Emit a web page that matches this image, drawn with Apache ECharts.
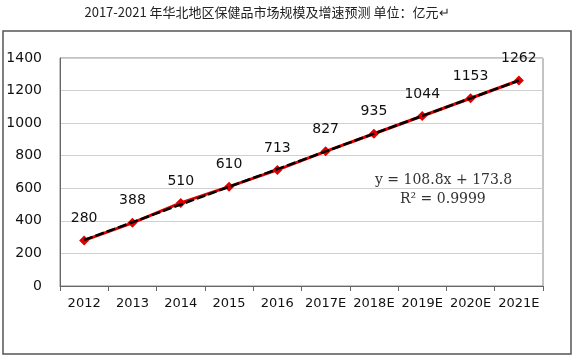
<!DOCTYPE html>
<html><head><meta charset="utf-8">
<script src="https://cdn.jsdelivr.net/npm/echarts@6/dist/echarts.min.js"></script>
<style>html,body{margin:0;padding:0;background:#fff}#c{width:576px;height:357px}</style>
</head><body><div id="c"></div>
<script>
var categories = ['2012','2013','2014','2015','2016','2017E','2018E','2019E','2020E','2021E'];
var marketSize = [280, 388, 510, 610, 713, 827, 935, 1044, 1153, 1262];
var trendLine = [282.6, 391.4, 500.2, 609.0, 717.8, 826.6, 935.4, 1044.2, 1153.0, 1261.8];
var yTicks = [0, 200, 400, 600, 800, 1000, 1200, 1400];
var titleText = '2017-2021 年华北地区保健品市场规模及增速预测 单位：亿元↵';
var eqText = 'y = 108.8x + 173.8';
var r2Text = 'R² = 0.9999';

var chart = echarts.init(document.getElementById('c'), null, {renderer:'canvas'});
var font = '"DejaVu Sans", Verdana, sans-serif';
chart.setOption({
  animation: false,
  title: {
    text: titleText, left: 262, top: 1, textAlign: 'center',
    textStyle: {fontFamily: '"Noto Sans CJK SC", sans-serif', fontSize: 13, fontWeight: 'normal', color: '#222'}
  },
  grid: {left: 60, top: 58, right: 33, bottom: 71, show: true, borderColor: '#888', borderWidth: 1},
  xAxis: {
    type: 'category', data: categories, boundaryGap: true,
    axisLine: {lineStyle: {color: '#666', width: 1}},
    axisTick: {show: true, length: 5, lineStyle: {color: '#666'}},
    axisLabel: {interval: 0, fontFamily: font, fontSize: 13, color: '#111', margin: 11}
  },
  yAxis: {
    type: 'value', min: yTicks[0], max: yTicks[yTicks.length-1], interval: 200,
    axisLine: {show: true, lineStyle: {color: '#666'}},
    axisTick: {show: false},
    splitLine: {lineStyle: {color: '#d0d0d0', width: 1}},
    axisLabel: {fontFamily: font, fontSize: 14, color: '#111', margin: 18, formatter: function(v){return String(v);}}
  },
  series: [
    {
      type: 'line', data: marketSize, symbol: 'diamond', symbolSize: 10,
      itemStyle: {color: '#e00000'}, lineStyle: {color: '#e00000', width: 3},
      label: {show: true, position: 'top', distance: 10, fontFamily: font, fontSize: 14, color: '#111'},
      z: 2
    },
    {
      type: 'line', data: trendLine, symbol: 'none',
      lineStyle: {color: '#000', width: 2.5, type: [9, 3]}, z: 3, silent: true
    }
  ],
  graphic: [
    {type: 'rect', shape: {x: 3, y: 31, width: 568, height: 323}, style: {fill: 'none', stroke: '#555', lineWidth: 1.5}, silent: true},
    {type: 'text', left: 375, top: 173, style: {text: eqText, font: '14px "DejaVu Serif", serif', fill: '#333'}},
    {type: 'text', left: 400, top: 192, style: {text: r2Text, font: '14px "DejaVu Serif", serif', fill: '#333'}}
  ]
});
</script></body></html>
